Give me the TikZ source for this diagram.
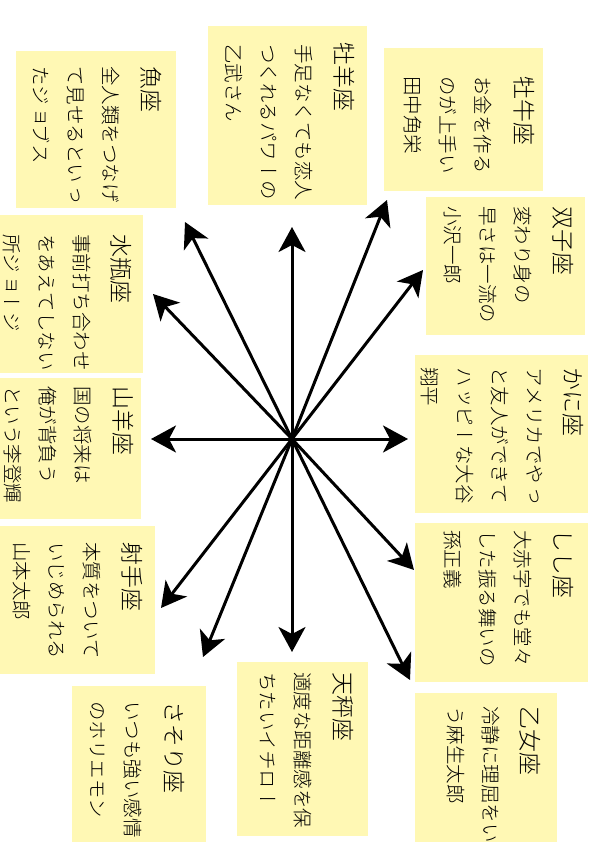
\documentclass[tikz,border=0pt]{standalone}
\usepackage{fontspec}
\usepackage{xcolor}
\usetikzlibrary{arrows.meta}
\newfontfamily\vjp[Vertical=RotatedGlyphs]{Noto Sans CJK JP Light}
\definecolor{note-yellow}{HTML}{FFF8B4}

\begin{document}
\begin{tikzpicture}[x=1pt, y=-1pt,
    every node/.style={inner sep=0pt},
    card/.style={fill=note-yellow, anchor=north west},
    vbody/.style={rotate=-90, anchor=north west, align=left,
      font=\vjp\fontsize{19.5}{35}\selectfont},
    vtitle/.style={vbody, font=\vjp\fontsize{23}{35}\selectfont},
    ray/.style={line width=3pt, -{Stealth[length=25pt, width=27pt, inset=7pt]}}]
    \useasboundingbox (0,0) rectangle (595,842);

    \node[card, minimum width=160pt, minimum height=157pt] (pisces) at (16,51) {};
    \node[card, minimum width=159pt, minimum height=179pt] (aries) at (208,26) {};
    \node[card, minimum width=159pt, minimum height=143pt] (taurus) at (384,48) {};
    \node[card, minimum width=159pt, minimum height=138pt] (gemini) at (426,197) {};
    \node[card, minimum width=143pt, minimum height=158pt] (aquarius) at (0,215) {};
    \node[card, minimum width=141pt, minimum height=141pt] (capricorn) at (0,378) {};
    \node[card, minimum width=173pt, minimum height=158pt] (cancer) at (415,355) {};
    \node[card, minimum width=173pt, minimum height=159pt] (leo) at (415,523) {};
    \node[card, minimum width=155pt, minimum height=148pt] (sagittarius) at (0,526) {};
    \node[card, minimum width=134pt, minimum height=156pt] (scorpio) at (72,686) {};
    \node[card, minimum width=131pt, minimum height=174pt] (libra) at (237,662) {};
    \node[card, minimum width=142pt, minimum height=149pt] (virgo) at (415,693) {};

    \node[vtitle] (pisces-t) at (161.5,66) {魚座};
    \node[vbody] (pisces-b) at (119.75,66) {全人類をつなげ\\て見せるといっ\\たジョブス};
    \node[vtitle] (aries-t) at (354.5,42) {牡羊座};
    \node[vbody] (aries-b) at (312.75,44) {手足なくても恋人\\つくれるパワーの\\乙武さん};
    \node[vtitle] (taurus-t) at (534.5,76) {牡牛座};
    \node[vbody] (taurus-b) at (491.75,76) {お金を作る\\のが上手い\\田中角栄};
    \node[vtitle] (gemini-t) at (573.5,206) {双子座};
    \node[vbody] (gemini-b) at (531.75,206) {変わり身の\\早さは一流の\\小沢一郎};
    \node[vtitle] (aquarius-t) at (131.5,234) {水瓶座};
    \node[vbody] (aquarius-b) at (90.75,234) {事前打ち合わせ\\をあえてしない\\所ジョージ};
    \node[vtitle] (capricorn-t) at (133.5,386) {山羊座};
    \node[vbody] (capricorn-b) at (91.75,386) {国の将来は\\俺が背負う\\という李登輝};
    \node[vtitle] (cancer-t) at (583.5,367) {かに座};
    \node[vbody] (cancer-b) at (542.75,367) {アメリカでやっ\\と友人ができて\\ハッピーな大谷\\翔平};
    \node[vtitle] (leo-t) at (573.5,529) {しし座};
    \node[vbody] (leo-b) at (531.75,530) {大赤字でも堂々\\した振る舞いの\\孫正義};
    \node[vtitle] (sagittarius-t) at (142.5,542) {射手座};
    \node[vbody] (sagittarius-b) at (100.75,542) {本質をついて\\いじめられる\\山本太郎};
    \node[vtitle] (scorpio-t) at (184.5,701) {さそり座};
    \node[vbody] (scorpio-b) at (141.75,701) {いつも強い感情\\のホリエモン};
    \node[vtitle] (libra-t) at (353.5,672) {天秤座};
    \node[vbody] (libra-b) at (311.75,672) {適度な距離感を保\\ちたいイチロー};
    \node[vtitle] (virgo-t) at (540.5,706) {乙女座};
    \node[vbody] (virgo-b) at (499.75,706) {冷静に理屈をい\\う麻生太郎};

    \coordinate (hub) at (292,439);
    \coordinate (to-aries) at (292,227);
    \coordinate (to-taurus) at (387,200);
    \coordinate (to-gemini) at (423,270);
    \coordinate (to-cancer) at (408,439);
    \coordinate (to-leo) at (414,570);
    \coordinate (to-virgo) at (410,680);
    \coordinate (to-libra) at (292,652);
    \coordinate (to-scorpio) at (203,657);
    \coordinate (to-sagittarius) at (161,608);
    \coordinate (to-capricorn) at (151,439);
    \coordinate (to-aquarius) at (153,294);
    \coordinate (to-pisces) at (185,222);

    \draw[ray] (hub) -- (to-aries);
    \draw[ray] (hub) -- (to-taurus);
    \draw[ray] (hub) -- (to-gemini);
    \draw[ray] (hub) -- (to-cancer);
    \draw[ray] (hub) -- (to-leo);
    \draw[ray] (hub) -- (to-virgo);
    \draw[ray] (hub) -- (to-libra);
    \draw[ray] (hub) -- (to-scorpio);
    \draw[ray] (hub) -- (to-sagittarius);
    \draw[ray] (hub) -- (to-capricorn);
    \draw[ray] (hub) -- (to-aquarius);
    \draw[ray] (hub) -- (to-pisces);
  \end{tikzpicture}
\end{document}
